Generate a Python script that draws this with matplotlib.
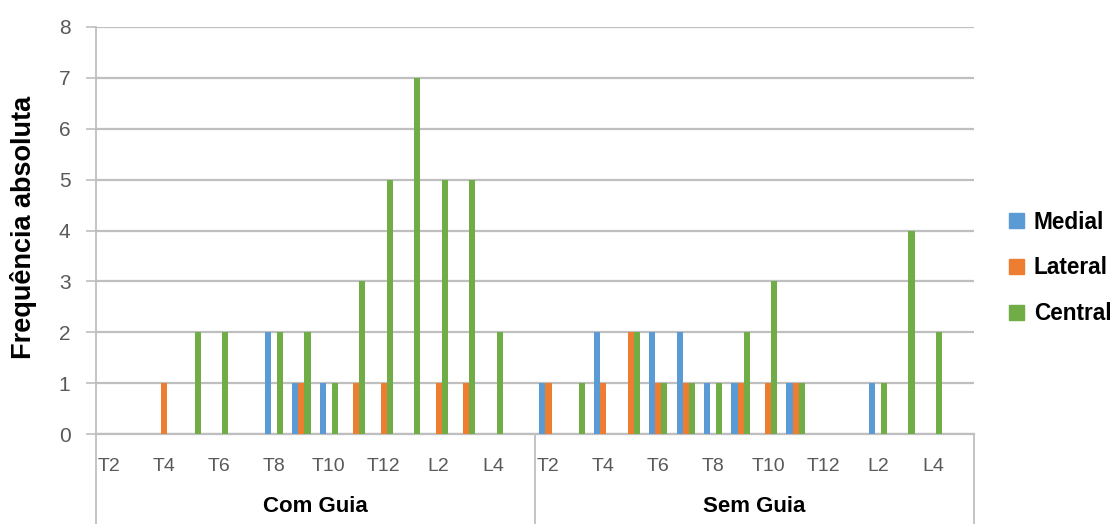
import matplotlib
matplotlib.use("Agg")
import matplotlib.pyplot as plt
from matplotlib.patches import Patch
import numpy as np

plt.rcParams['font.family'] = ['Liberation Sans', 'DejaVu Sans']

# ---- data ----
levels = ['T2', 'T3', 'T4', 'T5', 'T6', 'T7', 'T8', 'T9', 'T10', 'T11', 'T12',
          'L1', 'L2', 'L3', 'L4', 'L5']
groups = ['Com Guia', 'Sem Guia']
series = ['Medial', 'Lateral', 'Central']

#                  T2 T3 T4 T5 T6 T7 T8 T9 T10 T11 T12 L1 L2 L3 L4 L5
com_medial  =     [0, 0, 0, 0, 0, 0, 2, 1, 1,  0,  0,  0, 0, 0, 0, 0]
com_lateral =     [0, 0, 1, 0, 0, 0, 0, 1, 0,  1,  1,  0, 1, 1, 0, 0]
com_central =     [0, 0, 0, 2, 2, 0, 2, 2, 1,  3,  5,  7, 5, 5, 2, 0]

sem_medial  =     [1, 0, 2, 0, 2, 2, 1, 1, 0,  1,  0,  0, 1, 0, 0, 0]
sem_lateral =     [1, 0, 1, 2, 1, 1, 0, 1, 1,  1,  0,  0, 0, 0, 0, 0]
sem_central =     [0, 1, 0, 2, 1, 1, 1, 2, 3,  1,  0,  0, 1, 4, 2, 0]

yticks = [0, 1, 2, 3, 4, 5, 6, 7, 8]
colors = ['#5B9BD5', '#ED7D31', '#70AD47']

# ---- figure ----
W, H = 1116, 524
fig = plt.figure(figsize=(W / 100, H / 100), dpi=100)
left_px, right_px, top_px, bot_px = 95.5, 974, 27, 434
ax = fig.add_axes([left_px / W, 1 - bot_px / H, (right_px - left_px) / W, (bot_px - top_px) / H])

medial = com_medial + sem_medial
lateral = com_lateral + sem_lateral
central = com_central + sem_central
n = len(medial)
x = np.arange(n)
bw = 1 / 4.5
for i, (vals, c, name) in enumerate(zip([medial, lateral, central], colors, series)):
    ax.bar(x + (i - 1) * bw, vals, width=bw, color=c, label=name, zorder=3)

ax.set_xlim(-0.5, n - 0.5)
ax.set_ylim(0, 8)
ax.set_yticks(yticks)
ax.yaxis.grid(True, color='#BFBFBF', linewidth=1.6, zorder=0)
ax.set_axisbelow(True)
for s in ['top', 'right']:
    ax.spines[s].set_visible(False)
ax.spines['left'].set_color('#BFBFBF')
ax.spines['bottom'].set_color('#BFBFBF')
ax.spines['left'].set_linewidth(1.3)
ax.spines['bottom'].set_linewidth(1.6)
ax.tick_params(axis='y', length=7, width=1.2, color='#BFBFBF', pad=11,
               labelsize=15, labelcolor='#595959')

tick_pos = []
tick_lab = []
for g in range(2):
    for j in range(0, len(levels), 2):
        tick_pos.append(g * len(levels) + j)
        tick_lab.append(levels[j])
ax.set_xticks(tick_pos)
ax.set_xticklabels(tick_lab)
ax.tick_params(axis='x', length=0, pad=17, labelsize=14, labelcolor='#595959')

# group separators and labels
axh_px = bot_px - top_px
ybot = -(H - bot_px + 5) / axh_px
for xv in [-0.5, len(levels) - 0.5, n - 0.5]:
    ax.plot([xv, xv], [0, ybot], transform=ax.get_xaxis_transform(),
            color='#BFBFBF', linewidth=1.3, clip_on=False)
for g, name in enumerate(groups):
    ax.text(g * len(levels) + (len(levels) - 1) / 2, -(506 - bot_px) / axh_px, name,
            transform=ax.get_xaxis_transform(), ha='center', va='center',
            fontsize=16, fontweight='bold', color='black')

ax.set_ylabel('Frequência absoluta', fontsize=19.5, fontweight='bold')
ax.yaxis.set_label_coords(-(96 - 38) / (right_px - left_px), (bot_px - 227) / axh_px)

handles = [Patch(color=c) for c in colors]
fig.legend(handles, series, loc='center left', bbox_to_anchor=(1009 / W, 1 - 268 / H),
           frameon=False, borderpad=0, borderaxespad=0, handlelength=0.65, handleheight=0.65,
           handletextpad=0.45, labelspacing=1.0, prop={'weight': 'bold', 'size': 16.3})

fig.savefig('out.png', dpi=100)
